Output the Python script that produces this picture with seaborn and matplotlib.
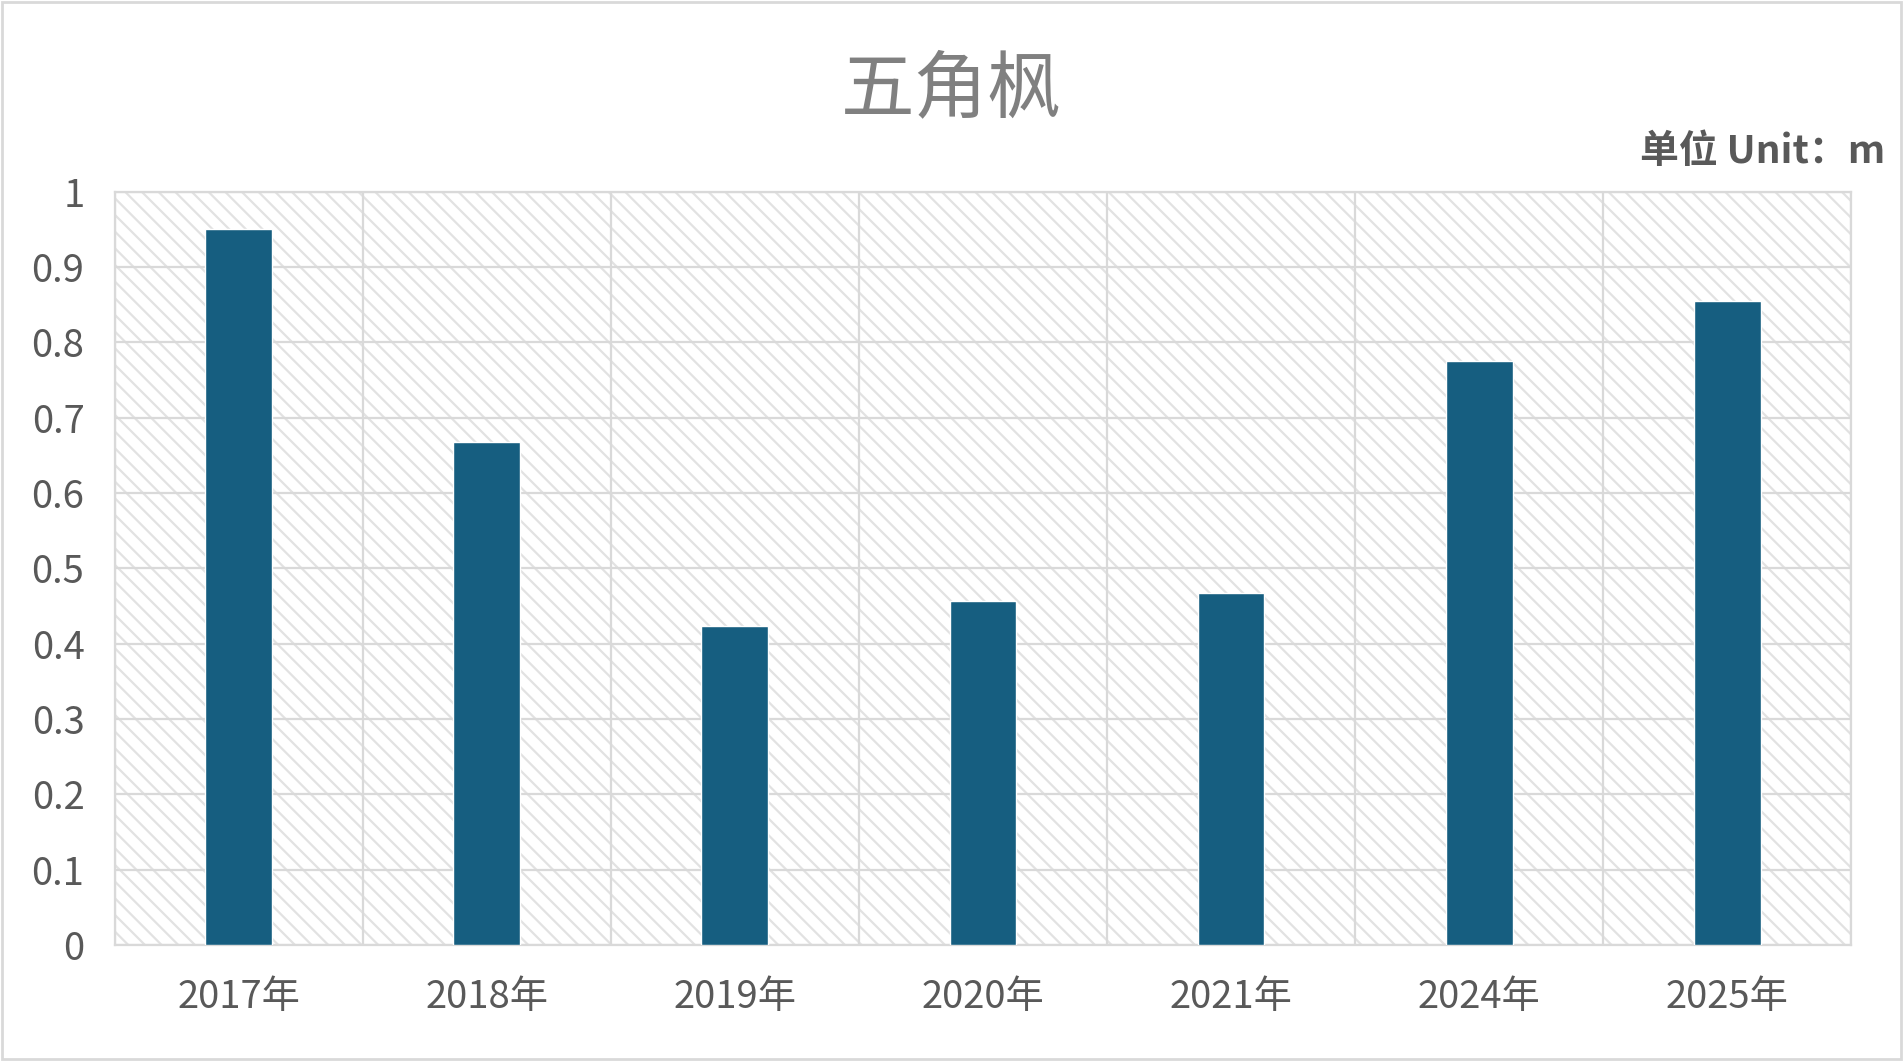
import pandas as pd
import matplotlib.pyplot as plt
import matplotlib.patches as mpatches
import seaborn as sns

# chart data
years = ['2017年', '2018年', '2019年', '2020年', '2021年', '2024年', '2025年']
heights = [0.95, 0.667, 0.423, 0.457, 0.467, 0.775, 0.855]
yticks = [0, 0.1, 0.2, 0.3, 0.4, 0.5, 0.6, 0.7, 0.8, 0.9, 1]
ytick_labels = ['0', '0.1', '0.2', '0.3', '0.4', '0.5', '0.6', '0.7', '0.8', '0.9', '1']

df = pd.DataFrame({'year': years, 'height': heights})

sns.set_style('white')
plt.rcParams['font.family'] = ['Noto Sans CJK SC', 'DejaVu Sans']
plt.rcParams['hatch.linewidth'] = 1.6

grid_col = '#d9d9d9'
text_col = '#595959'

fig = plt.figure(figsize=(19.03, 10.61), dpi=100)
ax = fig.add_axes([0.0604, 0.1093, 0.9123, 0.7102])

# hatched plot background
bg = mpatches.Rectangle((0, 0), 1, 1, transform=ax.transAxes, facecolor='white',
                        edgecolor='#e2e2e2', hatch='\\\\', linewidth=0, zorder=0)
ax.add_patch(bg)
ax.patch.set_alpha(0)

sns.barplot(data=df, x='year', y='height', color='#165e80', width=0.27,
            saturation=1, ax=ax, zorder=3)

ax.set_ylim(0, 1)
ax.set_xlim(-0.5, len(years) - 0.5)
ax.set_yticks(yticks)
ax.set_yticklabels(ytick_labels)

# grid lines: horizontal at ticks, vertical between categories
for y in yticks:
    ax.axhline(y, color=grid_col, lw=1.6, zorder=1)
for i in range(len(years) + 1):
    ax.axvline(i - 0.5, color=grid_col, lw=1.6, zorder=1)

for s in ax.spines.values():
    s.set_color(grid_col)
    s.set_linewidth(1.6)

ax.set_xlabel('')
ax.set_ylabel('')
ax.tick_params(axis='y', length=0, pad=22, labelsize=27.5, labelcolor=text_col)
ax.tick_params(axis='x', length=0, pad=24, labelsize=27.5, labelcolor=text_col)

fig.text(0.5, 0.915, '五角枫', ha='center', va='center', fontsize=53, color='#808080')
fig.text(0.9905, 0.857, '单位 Unit：m', ha='right', va='center', fontsize=28,
         fontweight='bold', color=text_col)

# outer chart border
fig.patches.append(mpatches.Rectangle((0.001, 0.0015), 0.998, 0.997, transform=fig.transFigure,
                                      fill=False, edgecolor=grid_col, linewidth=2))

fig.savefig('out.png', dpi=100)
